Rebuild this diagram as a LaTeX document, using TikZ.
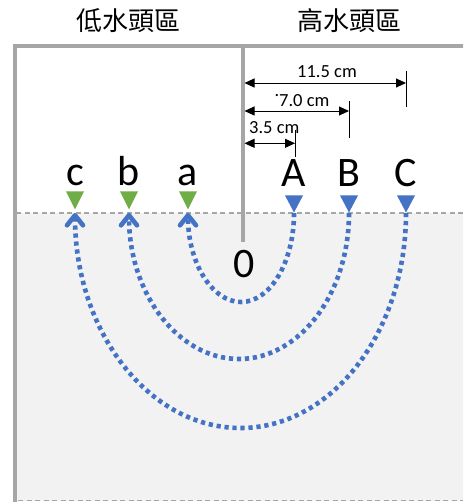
\documentclass[tikz,border=0pt]{standalone}
\usepackage{fontspec}
\setmainfont{Carlito}
\newfontfamily\cjk{Noto Sans CJK TC}
\usetikzlibrary{arrows.meta,shapes.geometric}
\definecolor{myblue}{HTML}{4472C4}
\definecolor{mygreen}{HTML}{70AD47}
\definecolor{wallgray}{HTML}{A6A6A6}
\definecolor{shadegray}{HTML}{F2F2F2}
\begin{document}
\begin{tikzpicture}[x=1pt,y=1pt,
  wall/.style={draw=wallgray, line width=4pt},
  zone/.style={fill=shadegray, draw=wallgray, line width=1.3pt, dash pattern=on 5pt off 3.5pt},
  tri/.style={isosceles triangle, shape border rotate=-90, isosceles triangle stretches,
    minimum width=18pt, minimum height=17pt, inner sep=0pt, anchor=apex},
  bigletter/.style={font=\fontsize{42}{50}\selectfont, inner sep=0pt, anchor=base},
  dimtext/.style={font=\fontsize{18.5}{22}\selectfont, inner sep=0pt, anchor=base west},
  title/.style={font=\cjk\fontsize{26}{30}\selectfont, inner sep=0pt, anchor=base},
  dimline/.style={draw=black, line width=0.9pt},
  dimarrow/.style={draw=black, line width=0.9pt,
    {Triangle[length=10pt,width=9pt]}-{Triangle[length=10pt,width=9pt]}},
  flow/.style={draw=myblue, line width=4.6pt, dash pattern=on 4.2pt off 3.8pt,
    -{Straight Barb[round,length=10pt,width=16pt,line width=4.6pt]}}]
\clip (0,0) rectangle (463,-502);
\fill[white] (0,0) rectangle (463,-502);
% shaded lower zone
\path[zone] (16.5,-213) rectangle (475,-500.5);
% walls
\draw[wall] (14.5,-46) -- (475,-46);
\draw[wall] (14.5,-44) -- (14.5,-505);
\draw[wall] (242.5,-46) -- (242.5,-242);
% titles
\node[title] (tlow) at (128,-31) {低水頭區};
\node[title] (thigh) at (349,-31) {高水頭區};
% triangles
\node[tri, fill=myblue] (tA) at (294,-213) {};
\node[tri, fill=myblue] (tB) at (349,-213) {};
\node[tri, fill=myblue] (tC) at (406,-213) {};
\node[tri, fill=mygreen, minimum height=18pt] (ta) at (188,-210) {};
\node[tri, fill=mygreen, minimum height=18pt] (tb) at (129,-210) {};
\node[tri, fill=mygreen, minimum height=18pt] (tc) at (75,-210) {};
% letters
\node[bigletter] (lA) at (294,-187) {A};
\node[bigletter] (lB) at (349,-187) {B};
\node[bigletter] (lC) at (406,-187) {C};
\node[bigletter] (la) at (188,-186) {a};
\node[bigletter] (lb) at (129,-186) {b};
\node[bigletter] (lc) at (75,-186) {c};
\node[bigletter] (zero) at (244,-277) {0};
% flow paths
\draw[flow] (tA.apex) arc[start angle=0, end angle=-180, x radius=53pt, y radius=89pt];
\draw[flow] (tB.apex) arc[start angle=0, end angle=-180, x radius=110pt, y radius=146pt];
\draw[flow] (tC.apex) arc[start angle=0, end angle=-180, x radius=165.5pt, y radius=215pt];
% dimension coordinates
\coordinate (d1l) at (244.5,-83);
\coordinate (d1r) at (406,-83);
\coordinate (t1top) at (406,-71.5);
\coordinate (t1bot) at (406,-107);
\coordinate (d2l) at (244.5,-111);
\coordinate (d2r) at (349,-111);
\coordinate (t2top) at (349,-101.5);
\coordinate (t2bot) at (349,-138);
\coordinate (d3l) at (244.5,-143.3);
\coordinate (d3r) at (295,-143.3);
\coordinate (t3top) at (295,-130);
\coordinate (t3bot) at (295,-157);
\draw[dimline] (t1top) -- (t1bot);
\draw[dimline] (t2top) -- (t2bot);
\draw[dimline] (t3top) -- (t3bot);
\draw[dimarrow] (d1l) -- (d1r);
\draw[dimarrow] (d2l) -- (d2r);
\draw[dimarrow] (d3l) -- (d3r);
\node[dimtext] (m1) at (297,-77.5) {11.5 cm};
\node[dimtext] (m2) at (279,-106.5) {\makebox[0pt][r]{\raisebox{0.55em}{.}}7.0 cm};
\node[dimtext] (m3) at (249,-134) {3.5 cm};
\end{tikzpicture}
\end{document}
